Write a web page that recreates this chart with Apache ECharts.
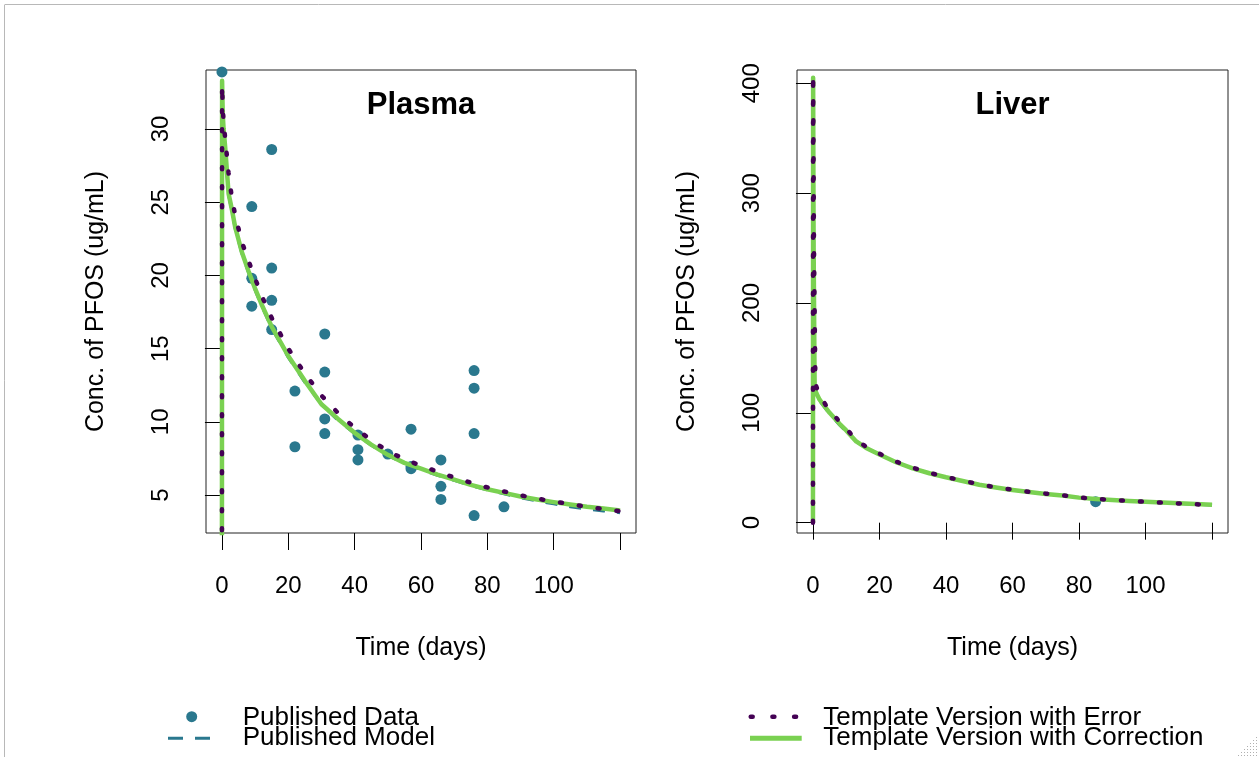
<!DOCTYPE html>
<html>
<head>
<meta charset="utf-8">
<script src="https://cdn.jsdelivr.net/npm/echarts@6/dist/echarts.min.js"></script>
<style>
html,body{margin:0;padding:0;background:#fff;}
#chart{width:1259px;height:757px;}
</style>
</head>
<body>
<div id="chart"></div>
<script>
// ---------- data ----------
const panelTitles = ['Plasma', 'Liver'];
const xAxisTitle = 'Time (days)';
const yAxisTitle = 'Conc. of PFOS (ug/mL)';
const legendNames = ['Published Data', 'Published Model', 'Template Version with Error', 'Template Version with Correction'];

const xTickValues = [0, 20, 40, 60, 80, 100, 120];
const xLabelValues = [0, 20, 40, 60, 80, 100];
const plasmaYTicks = [5, 10, 15, 20, 25, 30];
const liverYTicks = [0, 100, 200, 300, 400];

// published data points (days, conc)
const plasmaDataDays = [0, 9, 9, 9, 15, 15, 15, 15, 22, 22, 31, 31, 31, 31, 41, 41, 41, 50, 57, 57, 57, 66, 66, 66, 76, 76, 76, 76, 85];
const plasmaDataConc = [33.9, 24.7, 19.8, 17.9, 28.6, 20.5, 18.3, 16.3, 12.1, 8.3, 16.0, 13.4, 10.2, 9.2, 9.1, 8.1, 7.4, 7.8, 9.5, 6.8, 6.95, 7.4, 5.6, 4.7, 13.5, 12.3, 9.2, 3.6, 4.2];
const liverDataDays = [85];
const liverDataConc = [19.1];

// model curves, plasma
const plasmaModelDays   = [0, 0.05, 0.25, 0.5, 1, 2, 3, 4, 6, 8, 10, 12, 15, 20, 25, 30, 35, 40, 45, 50, 55, 60, 65, 70, 75, 80, 85, 90, 95, 100, 105, 110, 115, 120];
const plasmaPublished   = [0, 33.2, 30.9, 29.9, 28.6, 25.5, 24.4, 23.2, 21.5, 20.2, 19.0, 17.9, 16.4, 14.4, 12.7, 11.2, 10.1, 9.2, 8.4, 7.7, 7.15, 6.75, 6.35, 6.0, 5.65, 5.35, 5.08, 4.82, 4.6, 4.4, 4.2, 4.05, 3.92, 3.8];
const plasmaCorrection  = [0, 33.3, 31.0, 30.0, 28.7, 25.6, 24.5, 23.3, 21.6, 20.3, 19.1, 18.0, 16.5, 14.5, 12.8, 11.2, 10.2, 9.25, 8.45, 7.75, 7.2, 6.8, 6.4, 6.05, 5.7, 5.4, 5.15, 4.9, 4.7, 4.52, 4.36, 4.2, 4.08, 3.95];
const plasmaError       = [0, 33.0, 31.5, 30.5, 29.3, 27.0, 25.3, 24.1, 22.3, 21.0, 19.8, 18.6, 17.1, 15.0, 13.3, 11.8, 10.6, 9.6, 8.75, 8.0, 7.45, 7.0, 6.6, 6.2, 5.85, 5.52, 5.25, 4.98, 4.76, 4.56, 4.38, 4.2, 4.05, 3.9];

// model curves, liver
const liverModelDays    = [0, 0.05, 0.2, 0.5, 1, 2, 3, 5, 8, 10, 13, 16, 20, 25, 30, 35, 40, 45, 50, 55, 60, 65, 70, 75, 80, 85, 90, 95, 100, 105, 110, 115, 120];
const liverPublished    = [0, 404, 245, 122, 117, 111, 107, 99, 89, 83, 74, 68, 62, 55, 49.5, 45, 41.3, 38, 34.5, 32, 29.8, 27.9, 26.2, 24.8, 22.8, 21.6, 20.6, 19.8, 19.0, 18.3, 17.5, 16.8, 16.0];
const liverCorrection   = [0, 405, 250, 123, 118, 112, 108, 100, 90, 84, 74, 68, 62, 55, 49.5, 45, 41.3, 38, 34.5, 32, 29.8, 27.9, 26.2, 24.8, 22.8, 21.6, 20.6, 19.8, 19.0, 18.3, 17.6, 16.9, 16.3];
const liverErrorDays    = [0, 0.05, 0.3, 0.7, 1, 2, 3, 5, 8, 10, 13, 16, 20, 25, 30, 35, 40, 45, 50, 55, 60, 65, 70, 75, 80, 85, 90, 95, 100, 105, 110, 115, 120];
const liverError        = [0, 408, 250, 135, 124, 116, 111, 102, 92, 85.5, 75.5, 69, 62.8, 55.6, 50, 45.4, 41.6, 38.3, 34.8, 32.2, 30.0, 28.1, 26.4, 24.9, 22.9, 21.7, 20.7, 19.8, 19.0, 18.2, 17.5, 16.8, 16.1];

// ---------- helpers ----------
const zip = (xs, ys) => xs.map((x, i) => [x, ys[i]]);
const C_TEAL = '#2A788E', C_PURPLE = '#440154', C_GREEN = '#7AD151';
const FONT = "'Liberation Sans', Arial, sans-serif";

const grids = [
  {left: 206, top: 70, width: 430, height: 463},
  {left: 797, top: 70, width: 431, height: 463}
];

function xAxisFor(gi) {
  return {
    type: 'value', gridIndex: gi, min: -4.8, max: 124.8,
    axisLine: {show: false},
    splitLine: {show: false},
    axisTick: {show: true, inside: false, length: 17, customValues: xTickValues, lineStyle: {color: '#000', width: 1}},
    axisLabel: {customValues: xLabelValues, fontSize: 24, fontFamily: FONT, color: '#000', margin: 41}
  };
}
function yAxisFor(gi, min, max, ticks) {
  return {
    type: 'value', gridIndex: gi, min: min, max: max,
    axisLine: {show: false},
    splitLine: {show: false},
    axisTick: {show: true, inside: false, length: 17, customValues: ticks, lineStyle: {color: '#000', width: 1}},
    axisLabel: {customValues: ticks, fontSize: 24, fontFamily: FONT, color: '#000', margin: 33, rotate: 90}
  };
}
function lineSeries(name, gi, data, color, width, type, cap, z) {
  return {
    name: name, type: 'line', xAxisIndex: gi, yAxisIndex: gi, data: data,
    showSymbol: false, symbol: 'none', clip: true, z: z, silent: true,
    lineStyle: {color: color, width: width, type: type, cap: cap, join: 'round', opacity: 1},
    emphasis: {disabled: true}
  };
}
function scatterSeries(name, gi, data) {
  return {
    name: name, type: 'scatter', xAxisIndex: gi, yAxisIndex: gi, data: data,
    symbol: 'circle', symbolSize: 11, itemStyle: {color: C_TEAL, opacity: 1}, z: 2, silent: true,
    emphasis: {disabled: true}
  };
}

// ---------- decorative + text ----------
const graphics = [];
// viewer frame
graphics.push({type: 'line', shape: {x1: 5, y1: 4.5, x2: 1259, y2: 4.5}, style: {stroke: '#b8b8b8', lineWidth: 1}, silent: true});
graphics.push({type: 'line', shape: {x1: 4.5, y1: 4.5, x2: 4.5, y2: 757}, style: {stroke: '#b8b8b8', lineWidth: 1}, silent: true});
// resize grip
for (let i = 0; i < 7; i++) {
  for (let j = 0; j <= i; j++) {
    graphics.push({type: 'rect', shape: {x: 1256 - j * 3, y: 737 + i * 3, width: 1, height: 1}, style: {fill: '#b0b0b0'}, silent: true});
  }
}
grids.forEach((g, gi) => {
  const cx = g.left + g.width / 2;
  graphics.push({type: 'text', x: cx, y: 105, style: {text: panelTitles[gi], font: 'bold 31px ' + FONT, fill: '#000', align: 'center', verticalAlign: 'middle'}, silent: true});
  graphics.push({type: 'text', x: cx, y: 648, style: {text: xAxisTitle, font: '25px ' + FONT, fill: '#000', align: 'center', verticalAlign: 'middle'}, silent: true});
  graphics.push({type: 'text', x: g.left - 110, y: g.top + g.height / 2, rotation: Math.PI / 2, style: {text: yAxisTitle, font: '25px ' + FONT, fill: '#000', align: 'center', verticalAlign: 'middle'}, silent: true});
});
// legend
graphics.push({type: 'circle', shape: {cx: 191.7, cy: 716.7, r: 5.5}, style: {fill: C_TEAL}, silent: true});
graphics.push({type: 'line', shape: {x1: 168, y1: 738.3, x2: 210, y2: 738.3}, style: {stroke: C_TEAL, lineWidth: 3, lineDash: [15, 12]}, silent: true});
graphics.push({type: 'line', shape: {x1: 750.7, y1: 716.7, x2: 797, y2: 716.7}, style: {stroke: C_PURPLE, lineWidth: 4.5, lineDash: [2, 19.7], lineCap: 'round'}, silent: true});
graphics.push({type: 'line', shape: {x1: 750, y1: 738.3, x2: 801.7, y2: 738.3}, style: {stroke: C_GREEN, lineWidth: 5}, silent: true});
[[legendNames[0], 242.7, 718], [legendNames[1], 242.7, 738], [legendNames[2], 823.3, 718], [legendNames[3], 823.3, 738]].forEach(([t, x, y]) => {
  graphics.push({type: 'text', x: x, y: y, style: {text: t, font: '26px ' + FONT, fill: '#000', align: 'left', verticalAlign: 'middle'}, silent: true});
});

const option = {
  backgroundColor: '#fff',
  animation: false,
  grid: grids.map(g => Object.assign({show: true, borderColor: '#222', borderWidth: 1, backgroundColor: 'transparent', containLabel: false}, g)),
  xAxis: [xAxisFor(0), xAxisFor(1)],
  yAxis: [yAxisFor(0, 2.41, 34.03, plasmaYTicks), yAxisFor(1, -9.4, 412.1, liverYTicks)],
  series: [
    scatterSeries(legendNames[0], 0, zip(plasmaDataDays, plasmaDataConc)),
    lineSeries(legendNames[1], 0, zip(plasmaModelDays, plasmaPublished), C_TEAL, 3, [12, 12], 'butt', 3),
    lineSeries(legendNames[3], 0, zip(plasmaModelDays, plasmaCorrection), C_GREEN, 4.5, 'solid', 'butt', 4),
    lineSeries(legendNames[2], 0, zip(plasmaModelDays, plasmaError), C_PURPLE, 4.5, [2, 17], 'round', 5),
    scatterSeries(legendNames[0], 1, zip(liverDataDays, liverDataConc)),
    lineSeries(legendNames[1], 1, zip(liverModelDays, liverPublished), C_TEAL, 3, [12, 12], 'butt', 3),
    lineSeries(legendNames[3], 1, zip(liverModelDays, liverCorrection), C_GREEN, 4.5, 'solid', 'butt', 4),
    lineSeries(legendNames[2], 1, zip(liverErrorDays, liverError), C_PURPLE, 4.5, [2, 17], 'round', 5)
  ],
  graphic: graphics
};

const chart = echarts.init(document.getElementById('chart'), null, {renderer: 'canvas'});
chart.setOption(option);
</script>
</body>
</html>
